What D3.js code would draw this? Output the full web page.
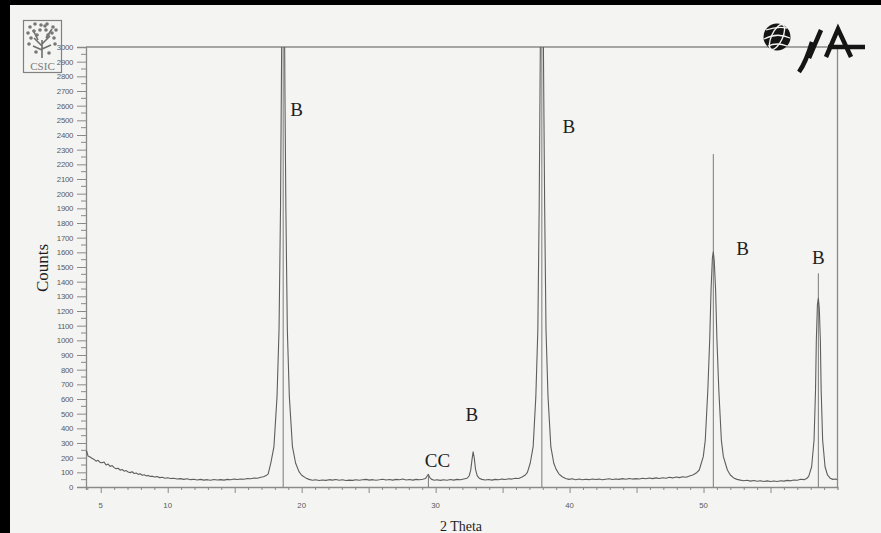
<!DOCTYPE html>
<html>
<head>
<meta charset="utf-8">
<script src="https://cdn.jsdelivr.net/npm/d3@7"></script>
<style>
	html, body { margin: 0; padding: 0; overflow: hidden; background: #f4f4f2; }
	svg { display: block; }
</style>
</head>
<body>
<div id="chart"></div>
<script>
// Scan: [2 theta, counts]
const scan = [
	[3.9, 232], [3.95, 245], [4.05, 212], [4.2, 205], [4.35, 196], [4.5, 188], [4.65, 176], [4.8, 182],
	[4.95, 168], [5.1, 165], [5.25, 170], [5.4, 150], [5.55, 156], [5.7, 140], [5.85, 146], [6.0, 132],
	[6.15, 124], [6.3, 128], [6.45, 115], [6.6, 119], [6.75, 108], [6.9, 112], [7.05, 102], [7.2, 98],
	[7.35, 104], [7.5, 92], [7.65, 95], [7.8, 86], [7.95, 90], [8.1, 80], [8.25, 84], [8.4, 76],
	[8.55, 79], [8.7, 72], [8.85, 74], [9.0, 68], [9.2, 71], [9.4, 64], [9.6, 66], [9.8, 60],
	[10.0, 63], [10.2, 58], [10.45, 60], [10.7, 55], [10.95, 57], [11.2, 52], [11.45, 56], [11.7, 50],
	[11.95, 53], [12.2, 48], [12.45, 52], [12.7, 47], [12.95, 50], [13.2, 46], [13.45, 51], [13.7, 48],
	[13.95, 50], [14.2, 47], [14.45, 52], [14.7, 49], [14.95, 54], [15.2, 51], [15.45, 55], [15.7, 53],
	[15.95, 58], [16.2, 56], [16.45, 61], [16.7, 60], [16.95, 66], [17.15, 70], [17.35, 78], [17.5, 90],
	[17.7, 165], [17.93, 275], [18.16, 616], [18.31, 1070], [18.42, 1900], [18.49, 2800], [18.55, 3600],
	[18.62, 5200], [18.69, 3600], [18.75, 2700], [18.82, 1900], [18.93, 1070], [19.08, 616], [19.31, 275],
	[19.55, 162], [19.8, 105], [20.0, 80], [20.3, 62], [20.55, 52], [20.8, 46], [21.05, 49], [21.3, 44],
	[21.55, 48], [21.8, 45], [22.05, 50], [22.3, 47], [22.55, 51], [22.8, 46], [23.05, 49], [23.3, 44],
	[23.55, 47], [23.8, 45], [24.05, 50], [24.3, 46], [24.55, 49], [24.8, 52], [25.05, 47], [25.3, 50],
	[25.55, 46], [25.8, 49], [26.05, 53], [26.3, 48], [26.55, 51], [26.8, 47], [27.05, 52], [27.3, 49],
	[27.55, 54], [27.8, 48], [28.05, 51], [28.3, 47], [28.55, 52], [28.8, 49], [29.05, 53], [29.25, 58],
	[29.4, 80], [29.46, 86], [29.55, 66], [29.7, 52], [29.9, 46], [30.1, 50], [30.35, 45], [30.6, 49],
	[30.85, 46], [31.1, 51], [31.35, 47], [31.6, 52], [31.85, 49], [32.1, 55], [32.35, 60], [32.5, 75],
	[32.62, 115], [32.72, 190], [32.8, 240], [32.88, 200], [32.98, 120], [33.1, 78], [33.25, 60], [33.45, 52],
	[33.7, 48], [33.95, 51], [34.2, 47], [34.45, 52], [34.7, 49], [34.95, 54], [35.2, 51], [35.45, 56],
	[35.7, 54], [35.95, 60], [36.2, 58], [36.45, 68], [36.7, 82], [36.85, 100], [37.06, 162], [37.28, 275],
	[37.48, 616], [37.63, 1070], [37.73, 1900], [37.8, 2800], [37.86, 3600], [37.93, 5400], [38.0, 3600],
	[38.07, 2700], [38.14, 1900], [38.24, 1070], [38.39, 616], [38.6, 275], [38.82, 162], [39.0, 120],
	[39.2, 90], [39.45, 70], [39.7, 58], [39.95, 52], [40.2, 56], [40.45, 50], [40.7, 54], [40.95, 49],
	[41.2, 53], [41.45, 50], [41.7, 55], [41.95, 51], [42.2, 54], [42.45, 49], [42.7, 53], [42.95, 56],
	[43.2, 51], [43.45, 55], [43.7, 52], [43.95, 57], [44.2, 53], [44.45, 58], [44.7, 54], [44.95, 57],
	[45.2, 55], [45.45, 60], [45.7, 56], [45.95, 61], [46.2, 57], [46.45, 62], [46.7, 58], [46.95, 63],
	[47.2, 60], [47.45, 66], [47.7, 62], [47.95, 68], [48.2, 64], [48.45, 70], [48.7, 67], [48.95, 75],
	[49.2, 82], [49.45, 95], [49.68, 116], [49.98, 207], [50.13, 320], [50.32, 661], [50.46, 1002],
	[50.56, 1343], [50.66, 1560], [50.73, 1604], [50.8, 1540], [50.9, 1343], [51.0, 1002], [51.14, 661],
	[51.33, 320], [51.48, 207], [51.78, 116], [52.0, 82], [52.25, 62], [52.5, 52], [52.75, 47], [53.0, 43],
	[53.25, 46], [53.5, 40], [53.75, 44], [54.0, 39], [54.25, 43], [54.5, 38], [54.75, 42], [55.0, 37],
	[55.25, 41], [55.5, 38], [55.75, 43], [56.0, 40], [56.25, 45], [56.5, 42], [56.75, 48], [57.0, 46],
	[57.25, 53], [57.5, 50], [57.7, 58], [57.85, 72], [58.07, 138], [58.25, 320], [58.36, 661], [58.42, 1002],
	[58.5, 1240], [58.57, 1287], [58.64, 1220], [58.72, 1002], [58.78, 661], [58.89, 320], [59.07, 138],
	[59.25, 82], [59.45, 60], [59.65, 52], [59.85, 55], [60.0, 50]
]

// Reference pattern sticks
const stickTheta = [18.62, 29.46, 37.93, 50.73, 58.57]
const stickCounts = [3400, 75, 3400, 2270, 1457]

// Phase labels
const labelText = ['B', 'B', 'B', 'B', 'B', 'CC']
const labelTheta = [19.63, 39.95, 52.91, 58.57, 32.71, 30.14]
const labelCounts = [2530, 2414, 1582, 1520, 452, 136]

// Axis ticks
const xTickLabels = [5, 10, 20, 30, 40, 50]
const xTickValues = [4, 5, 6, 7, 8, 9, 10, 11, 12, 13, 14, 15, 16, 17, 18, 19, 20, 21, 22, 23, 24, 25, 26, 27, 28, 29, 30,
	31, 32, 33, 34, 35, 36, 37, 38, 39, 40, 41, 42, 43, 44, 45, 46, 47, 48, 49, 50, 51, 52, 53, 54, 55, 56, 57, 58, 59]
const yTickLabels = [0, 100, 200, 300, 400, 500, 600, 700, 800, 900, 1000, 1100, 1200, 1300, 1400, 1500,
	1600, 1700, 1800, 1900, 2000, 2100, 2200, 2300, 2400, 2500, 2600, 2700, 2800, 2900, 3000]

async function draw() {
	let dimensions = {
		width: 881,
		height: 533,
		margin: {
			top: 47,
			bottom: 46,
			left: 86,
			right: 43.5
		}
	}
	dimensions.ctrWidth = dimensions.width - dimensions.margin.left - dimensions.margin.right
	dimensions.ctrHeight = dimensions.height - dimensions.margin.top - dimensions.margin.bottom

	const xAccessor = (d) => d[0]
	const yAccessor = (d) => d[1]

	const svg = d3.select('#chart')
		.append('svg')
		.attr('width', dimensions.width)
		.attr('height', dimensions.height)

	svg.append('rect')
		.attr('width', dimensions.width)
		.attr('height', dimensions.height)
		.attr('fill', '#f4f4f2')

	// scan border
	svg.append('rect').attr('x', 0).attr('y', 0).attr('width', 10).attr('height', dimensions.height).attr('fill', '#000')
	svg.append('rect').attr('x', 0).attr('y', 0).attr('width', dimensions.width).attr('height', 5).attr('fill', '#000')

	const ctr = svg.append('g')
		.attr('transform', `translate(${dimensions.margin.left}, ${dimensions.margin.top})`)

	// Scales
	const xScale = d3.scaleLinear()
		.domain([3.9, 60])
		.range([0, dimensions.ctrWidth])

	const yScale = d3.scaleLinear()
		.domain([0, 3000])
		.range([dimensions.ctrHeight, 0])

	ctr.append('clipPath')
		.attr('id', 'plot-clip')
		.append('rect')
		.attr('width', dimensions.ctrWidth)
		.attr('height', dimensions.ctrHeight)

	// frame top + right
	ctr.append('path')
		.attr('d', `M0,0H${dimensions.ctrWidth}V${dimensions.ctrHeight}`)
		.attr('fill', 'none')
		.attr('stroke', '#8a8a8a')
		.attr('stroke-width', 1.3)

	// Y axis
	const yAxis = d3.axisLeft(yScale)
		.tickValues(yTickLabels)
		.tickSize(9)
		.tickPadding(4)
		.tickFormat(d3.format('d'))
	const yAxisGroup = ctr.append('g').call(yAxis)
	yAxisGroup.select('.domain').attr('stroke', '#8a8a8a').attr('stroke-width', 1.3)
	yAxisGroup.selectAll('.tick line').attr('stroke', '#8a8a8a')
	yAxisGroup.selectAll('.tick text')
		.attr('fill', '#5a5a5a')
		.style('font-family', 'Arial, "Liberation Sans", sans-serif')
		.style('font-size', '7.8px')
		.style('letter-spacing', '-0.3px')
	ctr.append('g')
		.selectAll('line')
		.data(yTickLabels.slice(0, -1))
		.join('line')
		.attr('x1', -5)
		.attr('x2', 0)
		.attr('y1', d => yScale(d + 50))
		.attr('y2', d => yScale(d + 50))
		.attr('stroke', '#8a8a8a')

	// X axis
	const xAxis = d3.axisBottom(xScale)
		.tickValues(xTickValues)
		.tickSize(3)
		.tickFormat('')
	const xAxisGroup = ctr.append('g')
		.attr('transform', `translate(0, ${dimensions.ctrHeight})`)
		.call(xAxis)
	xAxisGroup.select('.domain').attr('stroke', '#8a8a8a').attr('stroke-width', 1.3)
	xAxisGroup.selectAll('.tick line')
		.attr('stroke', '#8a8a8a')
		.attr('y2', d => d % 5 === 0 ? 6 : 3)
	xAxisGroup.selectAll('.label')
		.data(xTickLabels)
		.join('text')
		.attr('class', 'label')
		.attr('x', d => xScale(d))
		.attr('y', 21)
		.attr('text-anchor', 'middle')
		.attr('fill', '#5a5a5a')
		.style('font-family', 'Arial, "Liberation Sans", sans-serif')
		.style('font-size', '7.8px')
		.text(d => d)

	// Reference sticks
	const plot = ctr.append('g').attr('clip-path', 'url(#plot-clip)')
	plot.selectAll('.stick')
		.data(stickTheta)
		.join('line')
		.attr('class', 'stick')
		.attr('x1', d => xScale(d))
		.attr('x2', d => xScale(d))
		.attr('y1', yScale(0))
		.attr('y2', (d, i) => yScale(stickCounts[i]))
		.attr('stroke', '#7a7a7a')
		.attr('stroke-width', 1)

	// Scan line
	const line = d3.line()
		.x(d => xScale(xAccessor(d)))
		.y(d => yScale(yAccessor(d)))
	plot.append('path')
		.datum(scan)
		.attr('d', line)
		.attr('fill', 'none')
		.attr('stroke', '#5e5e5e')
		.attr('stroke-width', 1.1)
		.attr('stroke-linejoin', 'round')

	// Phase labels
	ctr.selectAll('.phase')
		.data(labelText)
		.join('text')
		.attr('class', 'phase')
		.attr('x', (d, i) => xScale(labelTheta[i]))
		.attr('y', (d, i) => yScale(labelCounts[i]))
		.attr('text-anchor', 'middle')
		.attr('fill', '#1e1e1e')
		.style('font-family', '"Liberation Serif", "Times New Roman", serif')
		.style('font-size', '19px')
		.text(d => d)

	// Axis titles
	svg.append('text')
		.attr('transform', 'translate(48, 268) rotate(-90)')
		.attr('text-anchor', 'middle')
		.attr('fill', '#1e1e1e')
		.style('font-family', '"Liberation Serif", "Times New Roman", serif')
		.style('font-size', '17px')
		.text('Counts')

	svg.append('text')
		.attr('x', 461)
		.attr('y', 531)
		.attr('text-anchor', 'middle')
		.attr('fill', '#1e1e1e')
		.style('font-family', '"Liberation Serif", "Times New Roman", serif')
		.style('font-size', '14px')
		.text('2 Theta')

	// CSIC logo
	const csic = svg.append('g')
	csic.append('rect')
		.attr('x', 23.5).attr('y', 20.5).attr('width', 38).attr('height', 52)
		.attr('fill', 'none').attr('stroke', '#808080').attr('stroke-width', 1.2)
	csic.append('path')
		.attr('d', 'M42,58V40M42,46L34,38M42,44L50,36M42,50L33,46M42,49L51,45M38,40L33,30M46,38L52,29')
		.attr('stroke', '#6e6e6e').attr('stroke-width', 1.6).attr('fill', 'none')
	csic.selectAll('circle')
		.data([[30, 27], [35, 24], [41, 25], [47, 24], [53, 27], [28, 33], [34, 31], [40, 30], [46, 30], [52, 33],
			[56, 30], [31, 38], [37, 35], [48, 35], [54, 38], [29, 44], [55, 44], [36, 52], [49, 53], [45, 26]])
		.join('circle')
		.attr('cx', d => d[0]).attr('cy', d => d[1]).attr('r', 1.8)
		.attr('fill', '#777')
	csic.append('text')
		.attr('x', 42.5).attr('y', 70)
		.attr('text-anchor', 'middle')
		.attr('fill', '#7a7a7a')
		.style('font-family', '"Liberation Serif", serif')
		.style('font-size', '11px')
		.text('CSIC')

	// IJA logo
	const ija = svg.append('g')
	ija.append('circle').attr('cx', 777).attr('cy', 37).attr('r', 13.5).attr('fill', '#151515')
	ija.append('ellipse')
		.attr('cx', 777).attr('cy', 37).attr('rx', 5.5).attr('ry', 13.5)
		.attr('transform', 'rotate(25, 777, 37)')
		.attr('fill', 'none').attr('stroke', '#f4f4f2').attr('stroke-width', 1.4)
	ija.append('path')
		.attr('d', 'M764,39Q777,32 790,38M766,30Q777,26 787,28M768,46Q777,42 787,46')
		.attr('fill', 'none').attr('stroke', '#f4f4f2').attr('stroke-width', 1.3)
	ija.append('path')
		.attr('d', 'M799,72Q806,62 812,42M809,58L821,30M826,57L838,29L851,57M828,47H865')
		.attr('fill', 'none').attr('stroke', '#151515').attr('stroke-width', 4.5)
		.attr('stroke-linejoin', 'miter')
}

draw()
</script>
</body>
</html>
